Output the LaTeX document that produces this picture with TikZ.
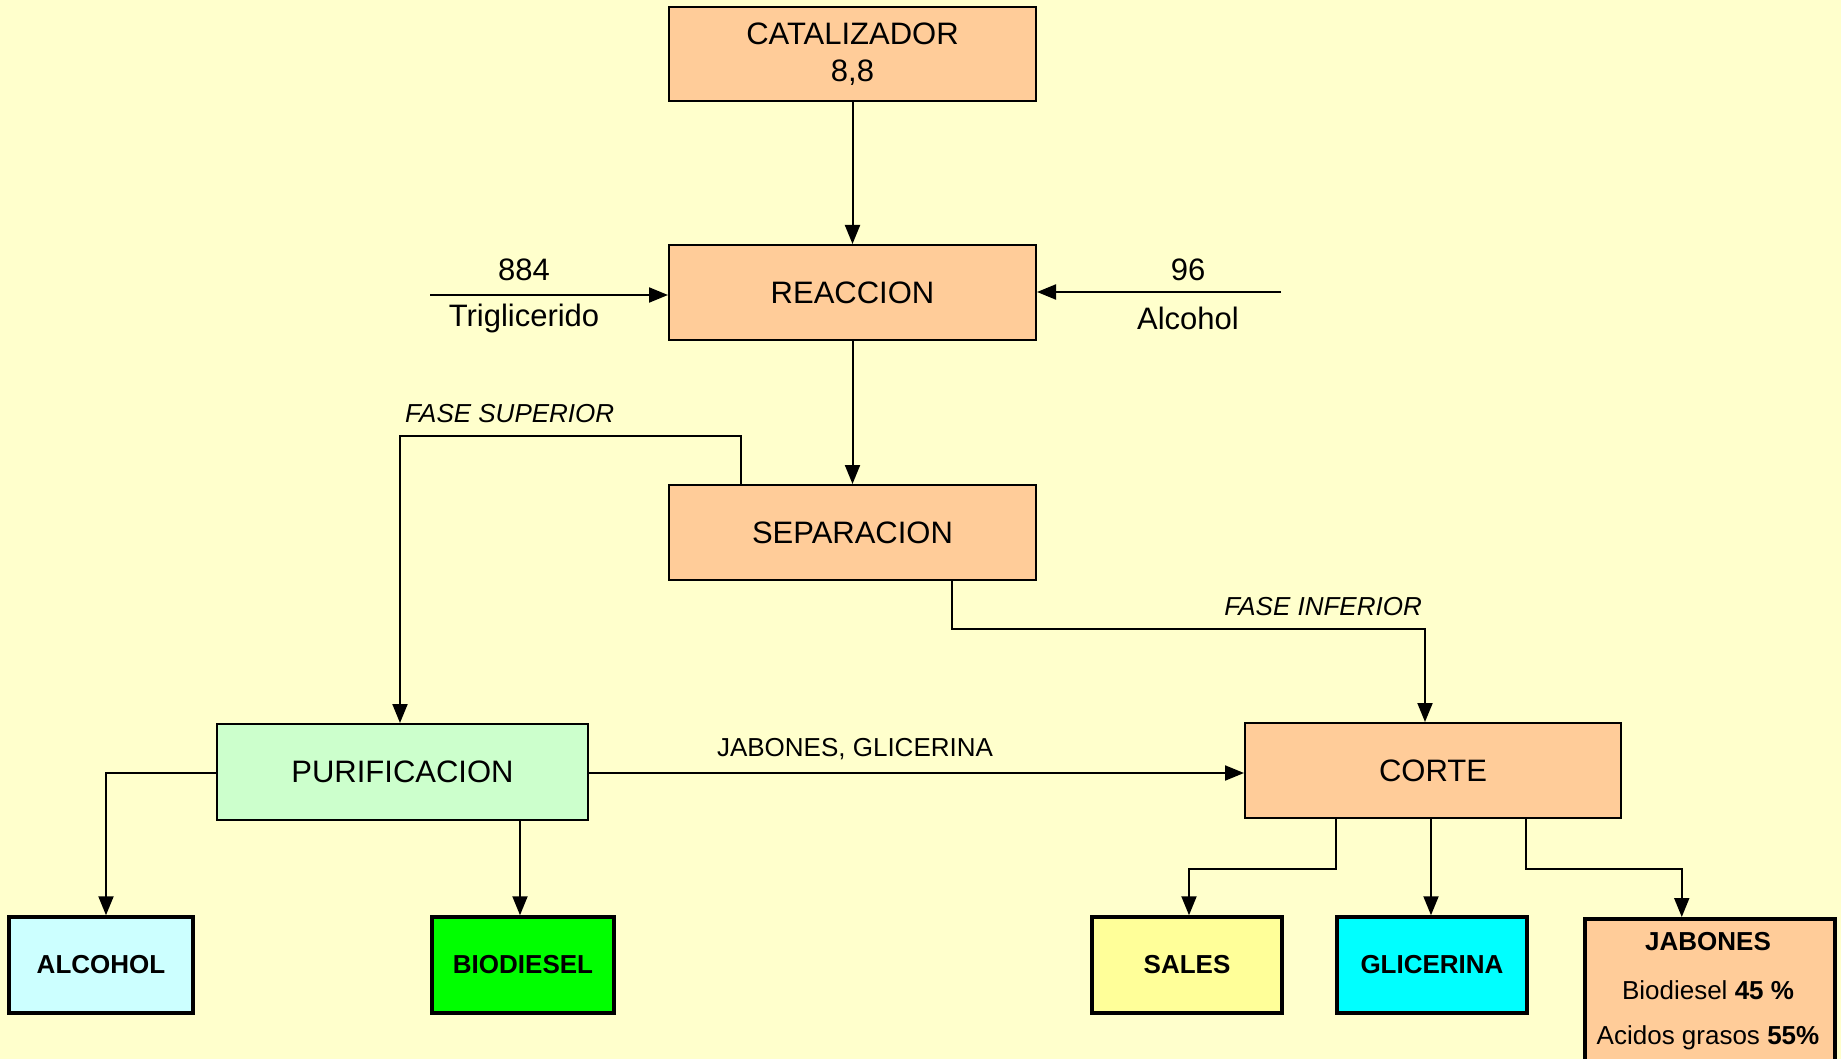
\documentclass[tikz,border=0pt]{standalone}
\usepackage{fontspec}
\setmainfont{Liberation Sans}
\usetikzlibrary{arrows.meta}
\definecolor{bgy}{HTML}{FFFFCC}
\definecolor{peach}{HTML}{FFCC99}
\definecolor{mint}{HTML}{CCFFCC}
\definecolor{icecyan}{HTML}{CCFFFF}
\definecolor{lime}{HTML}{00FF00}
\definecolor{paley}{HTML}{FFFF99}
\definecolor{aqua}{HTML}{00FFFF}
\tikzset{
  bigbox/.style={draw=black, line width=2pt, inner sep=0pt, font=\fontsize{31}{37}\selectfont, align=center},
  endbox/.style={draw=black, line width=3.5pt, inner sep=0pt, font=\fontsize{26}{31}\selectfont\bfseries},
  arr/.style={line width=2pt, -{Triangle[length=19pt,width=15pt]}},
  plainline/.style={line width=2pt},
  biglbl/.style={font=\fontsize{31}{37}\selectfont, inner sep=0pt},
  smalllbl/.style={font=\fontsize{26}{31}\selectfont, inner sep=0pt},
  itlbl/.style={font=\fontsize{26}{31}\selectfont\itshape, inner sep=0pt}
}
\begin{document}
\begin{tikzpicture}[x=1pt,y=-1pt]
\useasboundingbox[fill=bgy] (0,0) rectangle (1841,1059);
% main boxes
\node[bigbox, fill=peach, minimum width=367, minimum height=94] (cat) at (852.5,54) {CATALIZADOR\\8,8};
\node[bigbox, fill=peach, minimum width=367, minimum height=95] (rea) at (852.5,292.5) {REACCION};
\node[bigbox, fill=peach, minimum width=367, minimum height=95] (sep) at (852.5,532.5) {SEPARACION};
\node[bigbox, fill=mint, minimum width=371, minimum height=96] (pur) at (402.5,772) {PURIFICACION};
\node[bigbox, fill=peach, minimum width=376, minimum height=95] (cor) at (1433,770.5) {CORTE};
% end boxes
\node[endbox, fill=icecyan, minimum width=184, minimum height=96] (alc) at (101,965) {ALCOHOL};
\node[endbox, fill=lime, minimum width=182, minimum height=96] (bio) at (523,965) {BIODIESEL};
\node[endbox, fill=paley, minimum width=190, minimum height=96] (sal) at (1187,965) {SALES};
\node[endbox, fill=aqua, minimum width=190, minimum height=96] (gli) at (1432,965) {GLICERINA};
\node[endbox, fill=peach, minimum width=250, minimum height=170, anchor=north west] (jab) at (1583,917) {};
\node[smalllbl, font=\fontsize{26}{31}\selectfont\bfseries] (jab1) at (1708,942) {JABONES};
\node[smalllbl] (jab2) at (1708,990) {Biodiesel \textbf{45 \%}};
\node[smalllbl] (jab3) at (1708,1038) {Acidos grasos \textbf{55\%}};
% inputs
\coordinate (tin) at (430,295);
\coordinate (ain) at (1281,292);
\draw[arr] (tin) -- (rea.west |- tin);
\draw[arr] (ain) -- (rea.east |- ain);
\node[biglbl] (l884) at (524,270) {884};
\node[biglbl] (ltri) at (524,318) {Triglicerido};
\node[biglbl] (l96) at (1188,270) {96};
\node[biglbl] (lalc) at (1188,318) {Alcohol};
% main flow
\draw[arr] (cat.south) -- (rea.north);
\draw[arr] (rea.south) -- (sep.north);
\draw[arr] ([xshift=-111.5pt]sep.north) -- ++(0,-48) -| ([xshift=-2.5pt]pur.north);
\node[itlbl, anchor=west] (lsup) at (405,414) {FASE SUPERIOR};
\draw[arr] ([xshift=99.5pt]sep.south) -- ++(0,48) -| ([xshift=-8pt]cor.north);
\node[itlbl, anchor=east] (linf) at (1422,607) {FASE INFERIOR};
\draw[arr] (pur.east |- 0,773) -- (cor.west |- 0,773);
\node[smalllbl] (ljg) at (855,749) {JABONES, GLICERINA};
% purification outputs
\draw[arr] (pur.west |- 0,773) -| ([xshift=5pt]alc.north);
\draw[arr] ([xshift=-3pt]bio.north |- pur.south) -- ([xshift=-3pt]bio.north);
% corte outputs
\draw[arr] ([xshift=-97pt]cor.south) -- ++(0,50) -| ([xshift=2pt]sal.north);
\draw[arr] ([xshift=-1pt]gli.north |- cor.south) -- ([xshift=-1pt]gli.north);
\draw[arr] ([xshift=93pt]cor.south) -- ++(0,50) -| ([xshift=-28pt]jab.north);
\end{tikzpicture}
\end{document}
